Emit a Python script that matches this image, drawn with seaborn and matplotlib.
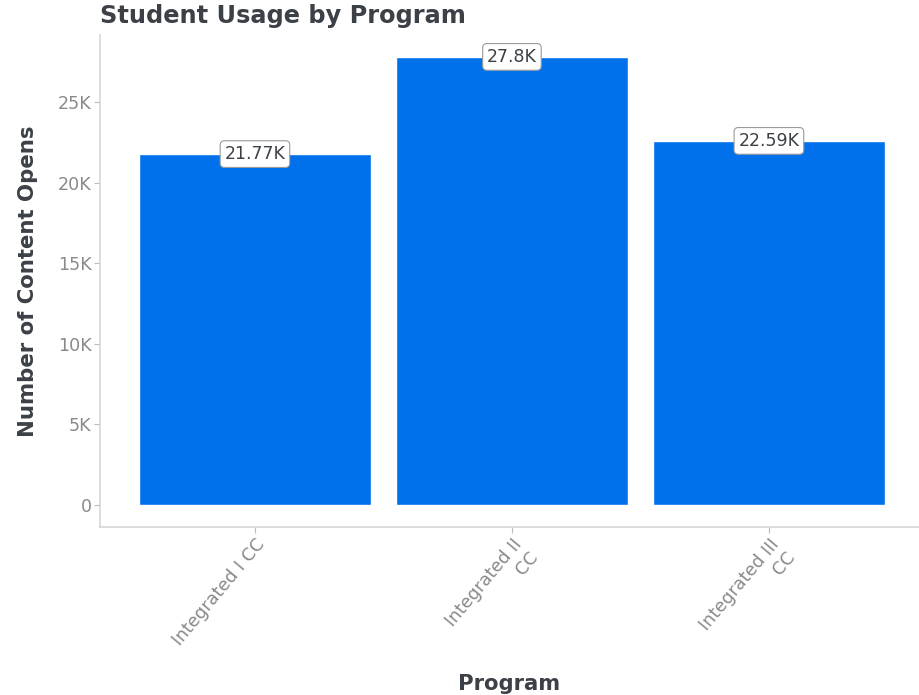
import matplotlib
matplotlib.use("Agg")
import matplotlib.pyplot as plt
import seaborn as sns
import pandas as pd
from matplotlib.ticker import FuncFormatter

"""
student usage by program, bar chart with value labels
"""

PROGRAMS = ["Integrated I CC", "Integrated II CC", "Integrated III CC"]
TICK_LABELS = ["Integrated I CC", "Integrated II\nCC", "Integrated III\nCC"]
OPENS = [21770, 27800, 22590]
BAR_LABELS = ["21.77K", "27.8K", "22.59K"]

BAR_COLOR = "#0070eb"
DARK = "#3c4047"
GRAY = "#8a8a8a"


def k_fmt(v, _):
    if v == 0:
        return "0"
    return f"{v / 1000:g}K"


def main():
    sns.set_style("white")
    plt.rcParams['font.family'] = ['DejaVu Sans']

    df = pd.DataFrame({"program": PROGRAMS, "opens": OPENS})

    fig = plt.figure(figsize=(9.19, 6.95), dpi=100)
    ax = fig.add_axes([100 / 919, 1 - 527 / 695, 819 / 919, 492 / 695])

    sns.barplot(data=df, x="program", y="opens", color=BAR_COLOR,
                saturation=1, width=0.9, ax=ax)

    # value labels in little boxes at the top of each bar
    for i, (v, lab) in enumerate(zip(OPENS, BAR_LABELS)):
        ax.text(i, v, lab, ha="center", va="center", fontsize=12.5, color=DARK,
                bbox=dict(boxstyle="round,pad=0.25", fc="white", ec="#9a9a9a", lw=0.8))

    ax.set_xlim(-0.603, 2.584)
    ax.set_ylim(-1365, 29160)
    ax.set_yticks([0, 5000, 10000, 15000, 20000, 25000])
    ax.yaxis.set_major_formatter(FuncFormatter(k_fmt))
    ax.set_xticks(range(len(PROGRAMS)))
    ax.set_xticklabels(TICK_LABELS, rotation=50, ha="right", rotation_mode="anchor",
                       fontsize=12.6, color=GRAY)
    ax.tick_params(axis="y", labelsize=12.6, labelcolor=GRAY, length=4, color="#bbbbbb",
                   left=True, pad=2)
    ax.tick_params(axis="x", length=4, color="#bbbbbb", bottom=True, pad=2)

    for side in ["top", "right"]:
        ax.spines[side].set_visible(False)
    for side in ["left", "bottom"]:
        ax.spines[side].set_color("#d5d5d5")
        ax.spines[side].set_linewidth(1.2)

    ax.set_xlabel("Program", fontsize=15.2, fontweight="bold", color=DARK, labelpad=18)
    ax.set_ylabel("Number of Content Opens", fontsize=15.3, fontweight="bold", color=DARK,
                  labelpad=14)
    fig.text(100 / 919, 1 - 16 / 695, "Student Usage by Program", fontsize=17.3,
             fontweight="bold", color=DARK, ha="left", va="center")

    fig.savefig("out.png", dpi=100)


if __name__ == '__main__':
    main()
